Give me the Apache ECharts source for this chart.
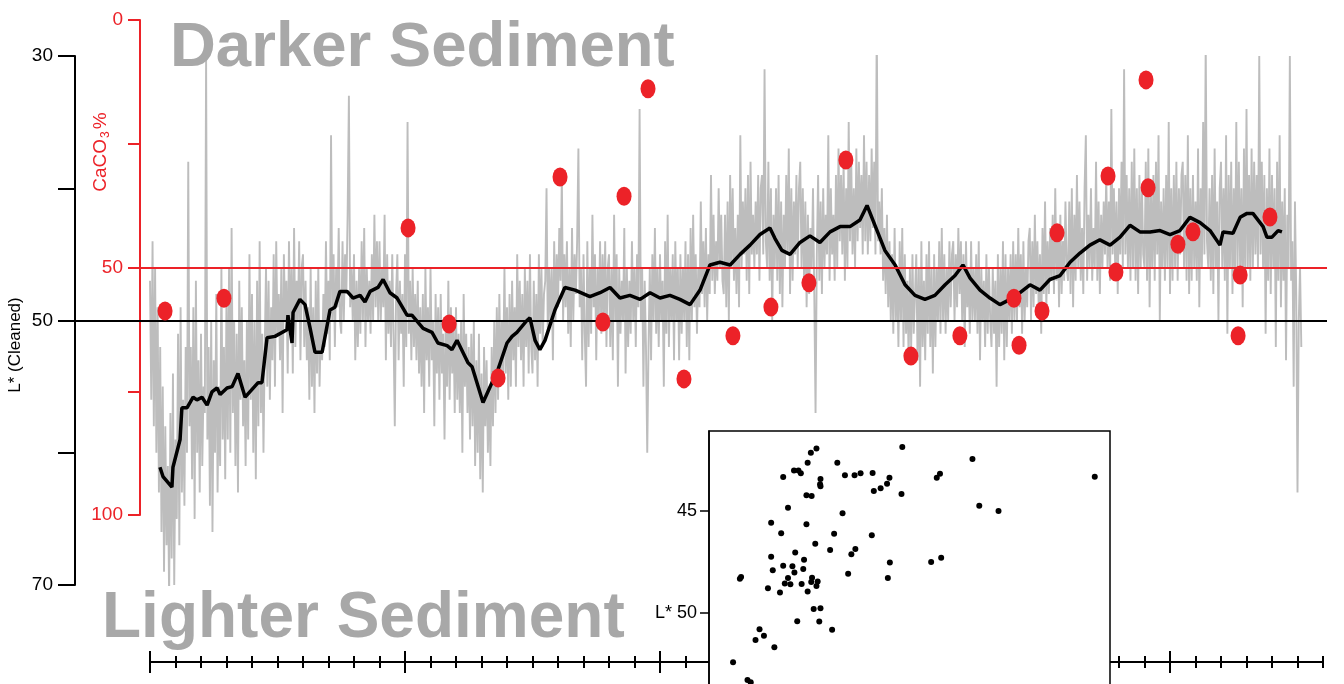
<!DOCTYPE html>
<html><head><meta charset="utf-8">
<script src="https://cdn.jsdelivr.net/npm/echarts@6/dist/echarts.min.js"></script>
<style>html,body{margin:0;padding:0;background:#fff}#c{width:1344px;height:684px}</style>
</head><body><div id="c"></div>
<script>
// ---- data ----
const grayStep = 0.5; // x spacing of the raw L* record (starts at x = 0)
const grayL = [
47,56,44,58,46,60,49,63,52,66,55,69,58,67,61,71,57,68,54,70,59,65,51,67,49,63,56,64,52,60,
38,58,52,62,49,65,47,60,53,63,51,61,55,57,30,59,52,64,50,66,53,60,48,63,55,61,46,59,52,62,
48,59,46,60,43,57,50,61,51,63,47,56,49,58,53,61,50,59,45,56,48,60,50,62,47,58,44,57,51,60,
52,46,55,47,56,49,53,45,55,44,51,48,53,46,57,45,50,47,54,44,51,46,54,43,52,47,50,44,53,46,
45,52,47,53,49,56,46,55,49,57,47,54,46,55,50,53,48,52,44,51,47,53,36,50,45,52,46,49,43,50,
51,44,50,45,48,42,33,49,46,50,45,53,47,52,46,51,44,50,43,52,46,50,47,51,45,50,42,49,44,50,
44,50,46,49,42,53,45,51,47,52,45,51,58,48,45,53,47,51,48,55,45,52,35,51,47,53,46,52,48,53,
47,54,49,55,48,57,46,53,49,55,46,53,50,58,48,54,49,56,48,54,51,59,50,55,47,56,49,54,50,57,
49,56,51,57,50,60,48,55,51,57,52,59,51,58,50,61,53,60,51,62,54,63,52,58,53,60,55,61,52,58,
50,57,49,56,48,55,50,54,46,54,49,56,48,55,47,53,49,55,45,52,47,53,48,55,46,52,47,54,45,52,
54,47,53,48,55,45,51,46,52,48,47,40,51,46,50,46,53,44,50,45,49,43,47,39,50,45,49,44,51,46,
52,43,50,45,48,44,37,49,46,53,45,51,55,44,52,46,51,42,49,45,53,46,50,44,51,45,50,44,52,46,
45,52,46,53,42,50,45,55,46,51,47,50,43,54,46,52,47,51,44,50,46,52,45,49,34,50,46,55,47,52,
60,52,46,53,45,50,43,51,46,52,45,50,47,55,44,51,42,52,46,50,45,53,44,50,46,53,45,51,46,50,
44,52,45,53,43,50,42,49,45,51,46,49,41,48,44,49,43,50,45,48,39,47,42,48,44,47,40,46,42,47,
48,42,49,41,50,39,46,40,47,43,48,42,49,36,46,41,45,40,47,39,48,38,45,42,46,41,45,39,47,40,
39,45,31,44,46,38,47,40,50,42,46,40,47,39,48,41,49,42,46,39,45,37,48,40,47,41,45,39,46,40,
38,46,40,47,41,49,42,48,43,46,40,48,57,45,39,47,41,48,40,46,42,45,36,47,40,45,42,47,39,46,
37,44,39,45,38,47,40,46,35,44,38,45,40,46,37,44,38,43,39,45,36,44,38,45,39,44,37,43,38,45,
27.5,44,41,45,40,47,43,48,42,49,44,50,45,51,43,50,46,52,44,50,43,52,45,51,47,53,46,52,45,51,
51,45,53,46,55,44,52,47,53,45,51,44,52,46,54,45,52,46,50,44,51,43,50,45,51,46,50,44,49,45,
44,50,45,49,43,48,44,50,45,52,44,49,46,51,44,50,46,50,45,51,44,53,46,50,47,52,45,51,46,50,
52,46,51,47,55,45,52,46,51,44,53,45,52,46,50,45,51,44,50,45,50,43,49,45,51,44,50,46,49,44,
43,50,44,49,42,48,44,49,45,51,43,48,41,49,44,48,43,47,42,48,40,47,43,49,42,48,44,47,41,46,
47,41,48,40,49,42,47,39,46,41,47,43,48,40,36,47,42,46,40,47,43,46,38,47,41,48,42,46,41,45,
39,46,41,47,34,45,40,46,41,48,40,45,38,46,31,45,39,46,40,47,38,46,37,47,40,48,39,46,40,45,
46,38,47,37,49,40,46,39,47,38,45,36,50,41,46,40,47,39,46,35,48,40,47,39,46,38,47,40,45,39,
38,46,39,47,36,48,40,47,39,46,41,47,37,49,40,46,35,45,29,44,46,40,47,39,48,37,46,41,50,40,
38,46,40,47,36,51,39,46,38,48,40,47,35,46,38,46,40,49,37,47,34,46,39,47,37,46,38,45,39,46,
30,45,38,46,39,51,40,47,37,48,39,46,40,52,38,47,36,49,41,47,40,53,42,46,30,47,44,55,41,48,
63,50,46,52
];
const blackX = [3.9,5.1,8.6,9.0,11.8,12.5,14.5,16.9,18.4,20.4,
22.4,24.3,26.3,27.5,30.2,32.2,34.5,37.3,42.4,43.9,
45.9,49.0,53.7,54.1,55.7,56.1,58.8,60.8,62.7,64.7,
67.5,70.6,72.5,74.5,77.3,79.6,82.4,84.3,86.3,89.4,
91.4,94.1,96.9,100.8,102.7,107.1,110.6,112.9,116.5,118.4,
120.4,124.7,126.3,130.6,134.1,136.5,140.0,142.0,143.9,147.8,
149.0,151.0,152.9,154.9,158.8,162.7,166.7,172.5,176.5,180.4,
184.3,188.2,192.2,196.1,200.0,203.9,207.8,211.8,215.7,219.6,
223.5,227.5,231.4,235.3,239.2,243.1,245.1,247.8,251.0,254.9,
258.8,262.7,266.7,270.6,274.5,278.4,281.2,284.3,288.2,292.2,
296.1,300.0,303.9,307.8,311.8,315.7,318.8,321.6,325.5,329.4,
333.3,337.3,341.2,345.1,349.0,352.9,356.9,360.8,364.7,368.6,
372.5,376.5,380.4,384.3,388.2,392.2,396.1,400.0,403.9,407.8,
411.8,415.7,419.6,420.8,424.7,427.5,430.2,432.5,436.5,438.0,
440.0,442.4,443.9];
const blackL = [61.1,61.8,62.6,61.1,59.0,56.6,56.6,55.8,56.0,55.8,
56.4,55.4,55.1,55.6,55.1,55.0,54.0,55.8,54.7,54.7,
51.3,51.2,50.7,49.6,51.7,49.4,48.4,48.8,50.5,52.4,
52.4,49.2,49.0,47.8,47.8,48.3,48.1,48.6,47.8,47.5,
46.9,47.9,48.3,49.6,49.6,50.6,50.9,51.7,51.9,52.2,
51.5,53.2,53.5,56.2,54.7,53.7,51.7,51.2,50.9,50.0,
49.8,51.5,52.2,51.5,49.2,47.5,47.7,48.2,47.9,47.5,
48.3,48.1,48.4,47.9,48.3,48.1,48.4,48.8,47.7,45.8,
45.6,45.8,45.0,44.3,43.5,43.0,43.8,44.7,45.0,44.1,
43.6,44.1,43.3,42.9,42.9,42.4,41.3,42.8,44.7,45.8,
47.3,48.1,48.4,48.1,47.3,46.6,45.8,46.8,47.7,48.3,
48.8,48.4,47.9,47.3,47.7,46.9,46.6,45.6,44.9,44.3,
43.9,44.3,43.7,42.8,43.3,43.3,43.2,43.5,43.2,42.2,
42.6,43.2,44.3,43.3,43.4,42.2,41.9,41.9,42.9,43.7,
43.7,43.2,43.3];
const redX = [5.9,29.0,101.2,117.3,136.5,160.8,177.6,185.9,195.3,209.4,228.6,243.5,258.4,272.9,298.4,317.6,338.8,340.8,349.8,355.7,375.7,378.8,390.6,391.4,403.1,409.0,426.7,427.5,439.2];
const redC = [58.8,56.2,42.0,61.4,72.3,31.7,61.0,35.6,13.9,72.5,63.8,58.0,53.1,28.3,67.9,63.8,56.2,65.7,58.8,43.0,31.5,50.9,12.1,33.9,45.3,42.8,63.8,51.5,39.8];
const insetX = [48.2,26.8,25.4,24.6,32.0,65.7,21.2,22.3,22.9,18.5,
33.9,36.3,37.8,40.8,45.0,44.4,42.8,41.1,27.8,27.7,
27.8,56.8,57.6,96.2,48.0,24.3,25.6,19.7,33.3,67.4,
72.2,15.5,24.3,18.0,31.2,40.6,26.5,30.2,36.5,35.5,
21.5,15.5,23.7,45.1,55.4,57.9,18.5,20.8,15.9,21.3,
23.5,34.7,44.6,7.7,8.0,19.7,25.7,18.9,20.3,23.1,
25.5,27.1,26.8,14.7,17.7,24.6,26.1,27.8,22.0,27.5,
30.7,12.6,13.7,11.6,16.3,6.0,9.6,10.4];
const insetL = [41.86,41.94,42.14,42.63,42.63,42.45,43.01,43.02,43.15,43.33,
43.25,43.25,43.15,43.14,43.37,43.66,43.89,44.02,43.43,43.69,
43.79,43.37,43.17,43.32,44.17,44.23,44.26,44.84,45.11,44.74,
45.0,45.57,45.65,46.09,46.11,46.19,46.60,46.91,46.86,47.12,
47.04,47.24,47.39,47.52,47.50,47.29,47.68,47.71,47.91,48.01,
47.84,48.07,48.28,48.32,48.24,48.28,48.27,48.56,48.59,48.58,
48.48,48.45,48.68,48.79,48.99,48.95,49.80,49.77,50.41,50.42,
50.82,50.80,51.11,51.32,51.68,52.42,53.28,53.40];
const lTickLabels = [30, 50, 70];
const cTickLabels = [0, 50, 100];
const insetTicks = [45, 50, 55];
const majorTicks = [0, 100, 200, 300, 400];

// ---- layout ----
const PX = 2.55, X0PX = 150; // px per x unit, px of x = 0
const FONT = '"Liberation Sans", Arial, sans-serif';
const RED = '#ec2228';
const gridL = {left: 75, right: 17, top: 56, height: 529};
const gridC = {left: 140, right: 17, top: 20, height: 495};
const W = 1344;
const xr = g => [(g.left - X0PX) / PX, (W - g.right - X0PX) / PX];

const grayData = grayL.map((v, i) => [i * grayStep, v]);
const blackData = blackX.map((x, i) => [x, blackL[i]]);
const redData = redX.map((x, i) => [x, redC[i]]);
const insetData = insetX.map((x, i) => [x, insetL[i]]);

const insetTop = 431, insetH = 300, insetPxPerUnit = 20.4, insetLab45 = 511;
const insetMin = 45 - (insetLab45 - insetTop) / insetPxPerUnit;
const insetMax = insetMin + insetH / insetPxPerUnit;

const chart = echarts.init(document.getElementById('c'), null, {renderer: 'canvas'});
const xA = (g, r) => ({gridIndex: g, type: 'value', min: r[0], max: r[1], show: false});
const xL = xr(gridL), xC = xr(gridC);

const tickAxis = (grid, min, max, opts) => Object.assign({
  gridIndex: grid, type: 'value', min, max, position: 'bottom',
  axisLabel: {show: false}, splitLine: {show: false}
}, opts);

chart.setOption({
  animation: false,
  backgroundColor: '#fff',
  grid: [
    Object.assign({outerBoundsMode: 'none'}, gridL),
    Object.assign({outerBoundsMode: 'none'}, gridC),
    {left: 150, width: 460 * PX, top: 600, height: 62, outerBoundsMode: 'none'},
    {left: 709, width: 401, top: insetTop, height: insetH, outerBoundsMode: 'none',
      show: true, backgroundColor: '#fff', borderColor: '#000', borderWidth: 1.5, z: 20}
  ],
  xAxis: [
    xA(0, xL),
    xA(1, xC),
    tickAxis(2, 0, 460, {interval: 10, axisLine: {show: true, onZero: false, lineStyle: {color: '#000', width: 2}},
      axisTick: {show: true, inside: true, length: 6, lineStyle: {color: '#000', width: 2}}}),
    tickAxis(2, 0, 460, {interval: 10, axisLine: {show: false, onZero: false},
      axisTick: {show: true, inside: false, length: 6, lineStyle: {color: '#000', width: 2}}}),
    tickAxis(2, 0, 460, {interval: 10, axisLine: {show: false, onZero: false},
      axisTick: {show: true, inside: true, length: 11, customValues: majorTicks, lineStyle: {color: '#000', width: 2}}}),
    tickAxis(2, 0, 460, {interval: 10, axisLine: {show: false, onZero: false},
      axisTick: {show: true, inside: false, length: 11, customValues: majorTicks, lineStyle: {color: '#000', width: 2}}}),
    {gridIndex: 3, type: 'value', min: 0, max: 100, show: false, z: 21}
  ],
  yAxis: [
    {gridIndex: 0, type: 'value', inverse: true, min: 30, max: 70, interval: 10, position: 'left',
      axisLine: {show: true, onZero: false, lineStyle: {color: '#000', width: 2}},
      axisTick: {show: true, length: 17, lineStyle: {color: '#000', width: 2}},
      axisLabel: {show: true, margin: 22, color: '#000', fontSize: 19, fontFamily: FONT,
        formatter: v => lTickLabels.includes(v) ? String(v) : ''},
      splitLine: {show: false}},
    {gridIndex: 1, type: 'value', inverse: true, min: 0, max: 100, interval: 25, position: 'left',
      axisLine: {show: true, onZero: false, lineStyle: {color: RED, width: 2}},
      axisTick: {show: true, length: 12, lineStyle: {color: RED, width: 2}},
      axisLabel: {show: true, margin: 17, color: RED, fontSize: 19, fontFamily: FONT,
        formatter: v => cTickLabels.includes(v) ? String(v) : ''},
      splitLine: {show: false}},
    {gridIndex: 2, type: 'value', min: 0, max: 1, show: false},
    {gridIndex: 3, type: 'value', inverse: true, min: insetMin, max: insetMax, z: 21, position: 'left',
      axisLine: {show: true, onZero: false, lineStyle: {color: '#000', width: 1.5}},
      axisTick: {show: true, length: 9, customValues: insetTicks, lineStyle: {color: '#000', width: 1.5}},
      axisLabel: {show: true, margin: 12, color: '#000', fontSize: 18, fontFamily: FONT, customValues: insetTicks,
        formatter: v => v === 50 ? 'L* 50' : String(v)},
      splitLine: {show: false}}
  ],
  series: [
    {type: 'line', xAxisIndex: 0, yAxisIndex: 0, data: grayData, showSymbol: false, symbol: 'none',
      lineStyle: {color: '#bdbdbd', width: 1.9}, z: 2, silent: true},
    {type: 'line', xAxisIndex: 1, yAxisIndex: 1, data: [], symbol: 'none', z: 3,
      markLine: {silent: true, symbol: 'none', label: {show: false},
        lineStyle: {color: RED, width: 2, type: 'solid'}, data: [{yAxis: 50}]}},
    {type: 'line', xAxisIndex: 0, yAxisIndex: 0, data: blackData, showSymbol: false, symbol: 'none',
      lineStyle: {color: '#000', width: 3.5}, z: 4, silent: true,
      markLine: {silent: true, symbol: 'none', label: {show: false},
        lineStyle: {color: '#000', width: 2, type: 'solid'}, data: [{yAxis: 50}]}},
    {type: 'scatter', xAxisIndex: 1, yAxisIndex: 1, data: redData, symbol: 'circle', symbolSize: [15, 19],
      itemStyle: {color: RED, opacity: 1}, z: 5, silent: true},
    {type: 'scatter', xAxisIndex: 6, yAxisIndex: 3, data: insetData, symbol: 'circle', symbolSize: 6,
      itemStyle: {color: '#000', opacity: 1}, z: 22, silent: true}
  ],
  graphic: [
    {type: 'text', z: 10, style: {x: 170, y: 48, text: 'Darker Sediment', fill: '#a8a8a8',
      font: 'bold 63.5px ' + FONT, textAlign: 'left', textVerticalAlign: 'middle'}},
    {type: 'text', z: 10, style: {x: 102, y: 619, text: 'Lighter Sediment', fill: '#a8a8a8',
      font: 'bold 64px ' + FONT, textAlign: 'left', textVerticalAlign: 'middle'}},
    {type: 'text', z: 10, x: 15, y: 345, rotation: Math.PI / 2,
      style: {x: 0, y: 0, text: 'L* (Cleaned)', fill: '#000', font: '17px ' + FONT,
        textAlign: 'center', textVerticalAlign: 'middle'}},
    {type: 'text', z: 10, x: 101, y: 152, rotation: Math.PI / 2,
      style: {x: 0, y: 0, text: '{a|CaCO}{s|3}{a|%}', fill: RED, textAlign: 'center', textVerticalAlign: 'middle',
        rich: {a: {fontSize: 19, fontFamily: FONT, fill: RED, lineHeight: 22},
               s: {fontSize: 12, fontFamily: FONT, fill: RED, lineHeight: 22, padding: [10, 2, 0, 1]}}}}
  ]
});
</script></body></html>
